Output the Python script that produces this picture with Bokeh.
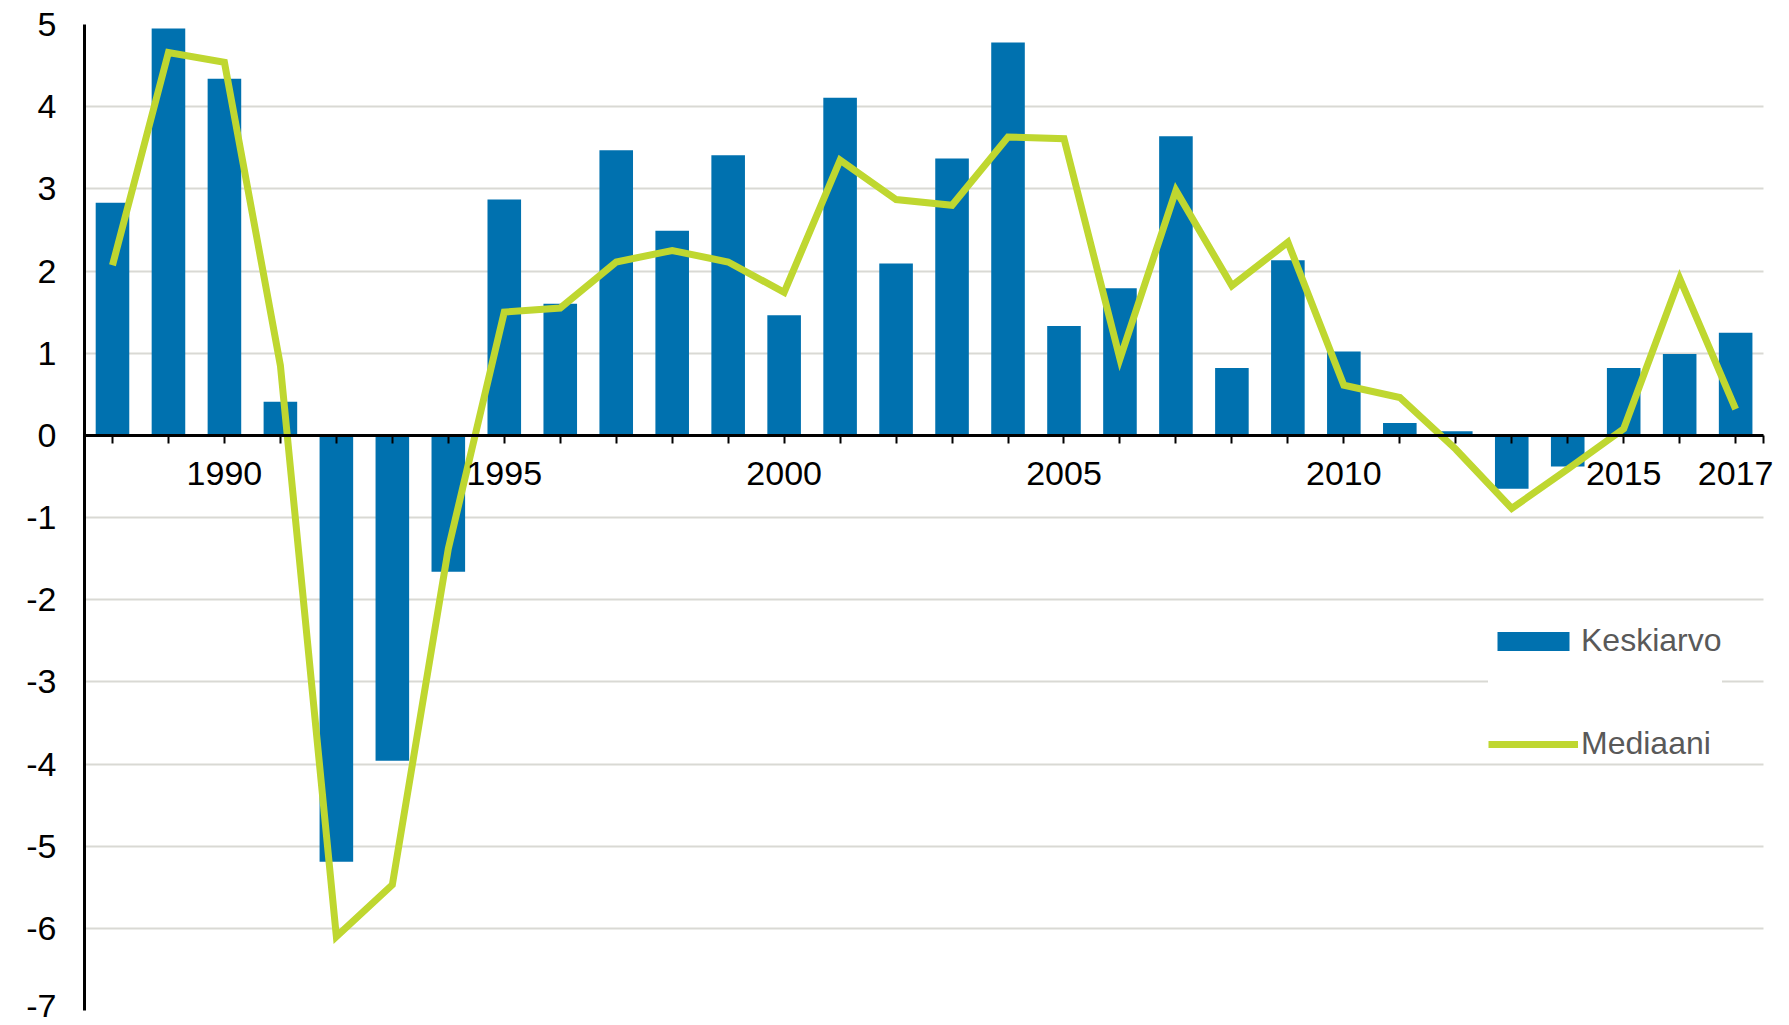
from bokeh.plotting import figure
from bokeh.models import Range1d, FixedTicker, Legend, LegendItem, Grid, LabelSet, ColumnDataSource
from bokeh.core.properties import value
from bokeh.embed import file_html
from bokeh.resources import INLINE

years = [1988, 1989, 1990, 1991, 1992, 1993, 1994, 1995, 1996, 1997,
         1998, 1999, 2000, 2001, 2002, 2003, 2004, 2005, 2006, 2007,
         2008, 2009, 2010, 2011, 2012, 2013, 2014, 2015, 2016, 2017]
keskiarvo = [2.83, 4.95, 4.34, 0.41, -5.19, -3.96, -1.66, 2.87, 1.60, 3.47,
             2.49, 3.41, 1.46, 4.11, 2.09, 3.37, 4.78, 1.33, 1.79, 3.64,
             0.82, 2.13, 1.02, 0.15, 0.05, -0.65, -0.38, 0.82, 0.99, 1.25]
mediaani = [2.07, 4.66, 4.54, 0.85, -6.10, -5.47, -1.38, 1.50, 1.55, 2.11,
            2.25, 2.11, 1.74, 3.35, 2.87, 2.80, 3.63, 3.61, 0.93, 2.98,
            1.82, 2.35, 0.61, 0.46, -0.17, -0.89, -0.41, 0.08, 1.91, 0.32]
label_years = [1990, 1995, 2000, 2005, 2010, 2015, 2017]
label_texts = ["1990", "1995", "2000", "2005", "2010", "2015", "2017"]
y_ticks = [-7, -6, -5, -4, -3, -2, -1, 0, 1, 2, 3, 4, 5]

BAR = "#0071AF"
LINE = "#BFD730"
GRID = "#D9D9D4"
X_START, X_END = 1987.5, 2017.5

p = figure(width=1781, height=1017, output_backend="svg", toolbar_location=None,
           x_range=Range1d(X_START, 2017.73), y_range=Range1d(-7, 5),
           min_border_left=84, min_border_right=5, min_border_top=24,
           min_border_bottom=7)
p.outline_line_color = None
p.background_fill_color = "white"
p.border_fill_color = "white"

bars = p.vbar(x=years, top=keskiarvo, width=0.6, fill_color=BAR, line_color=None)
med = p.line(x=years, y=mediaani, line_color=LINE, line_width=7, line_join="miter")

# x axis drawn at zero
xa = p.xaxis[0]
xa.fixed_location = 0
xa.bounds = (X_START, X_END)
xa.ticker = FixedTicker(ticks=years + [X_END])
xa.major_label_overrides = {y: "" for y in years + [X_END]}
xa.axis_line_color = "black"
xa.axis_line_width = 3
xa.major_tick_line_color = "black"
xa.major_tick_line_width = 2
xa.major_tick_in = 0
xa.major_tick_out = 8
xa.minor_tick_line_color = None

lab_src = ColumnDataSource(dict(x=label_years, y=[0] * len(label_years), text=label_texts))
p.add_layout(LabelSet(x="x", y="y", text="text", source=lab_src,
                      y_offset=-27, text_align="center", text_baseline="top",
                      text_font=value("Liberation Sans"), text_font_size="34px",
                      text_color="black"))

ya = p.yaxis[0]
ya.ticker = FixedTicker(ticks=y_ticks)
ya.major_label_overrides = {t: str(t) for t in y_ticks}
ya.axis_line_color = "black"
ya.axis_line_width = 3
ya.major_tick_line_color = None
ya.major_tick_in = 0
ya.major_tick_out = 0
ya.minor_tick_line_color = None
ya.major_label_text_font = "Liberation Sans"
ya.major_label_text_font_size = "34px"
ya.major_label_text_color = "black"
ya.major_label_standoff = 28

p.xgrid.visible = False
p.ygrid.ticker = FixedTicker(ticks=y_ticks[:-1])
p.ygrid.grid_line_color = GRID
p.ygrid.grid_line_width = 2
top_grid = Grid(dimension=1, ticker=FixedTicker(ticks=[5]), grid_line_color="#CFCFCF",
                grid_line_width=2, grid_line_dash="dotted")
p.add_layout(top_grid)
for g in (p.ygrid[0], top_grid):
    try:
        g.cross_bounds = (X_START, X_END)
    except Exception:
        pass

legend = Legend(items=[LegendItem(label="Keskiarvo", renderers=[bars]),
                       LegendItem(label="Mediaani", renderers=[med])],
                location=(1404, 248), orientation="vertical",
                glyph_width=90, glyph_height=24, label_height=30,
                label_standoff=3, spacing=66, padding=14, margin=0,
                border_line_color=None, background_fill_color="white",
                background_fill_alpha=1.0,
                label_text_font="Liberation Sans", label_text_font_size="32px",
                label_text_color="#595959")
p.add_layout(legend)

open("out.html", "w").write(file_html(p, INLINE))
